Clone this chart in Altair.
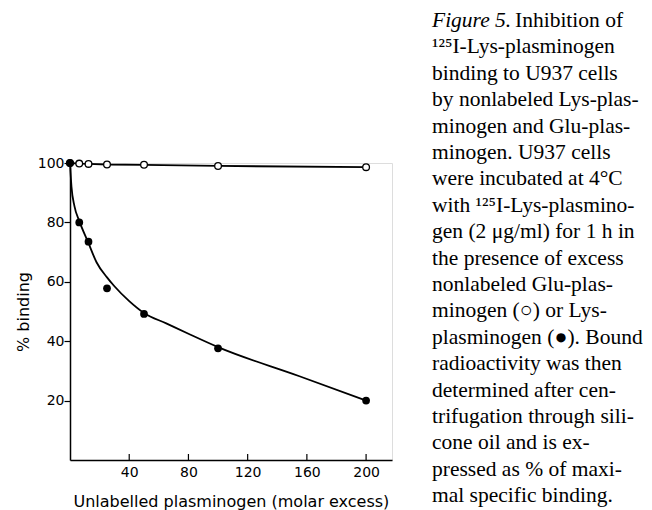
import altair as alt
import pandas as pd

# Glu-plasminogen (open circles)
glu_x = [0, 6.25, 12.5, 25, 50, 100, 200]
glu_y = [100, 99.8, 99.7, 99.5, 99.4, 99.0, 98.6]

# Lys-plasminogen (filled circles)
lys_x = [0, 6.25, 12.5, 25, 50, 100, 200]
lys_y = [100, 80, 73.5, 57.8, 49.2, 37.6, 20]

# fitted curve through Lys-plasminogen points
curve_x = [0, 1, 3, 6.25, 12.5, 18, 25, 30, 40, 50, 65, 80, 100, 155, 200]
curve_y = [100, 92, 85.5, 80.5, 73, 66.5, 61.5, 58.5, 53.5, 49.5, 46, 42.5, 38, 28.2, 20]

x_ticks = [40, 80, 120, 160, 200]
y_ticks = [20, 40, 60, 80, 100]

caption_lines = [
    "",
    "¹²⁵I-Lys-plasminogen",
    "binding to U937 cells",
    "by nonlabeled Lys-plas-",
    "minogen and Glu-plas-",
    "minogen. U937 cells",
    "were incubated at 4°C",
    "with ¹²⁵I-Lys-plasmino-",
    "gen (2 μg/ml) for 1 h in",
    "the presence of excess",
    "nonlabeled Glu-plas-",
    "minogen (○) or Lys-",
    "plasminogen (●). Bound",
    "radioactivity was then",
    "determined after cen-",
    "trifugation through sili-",
    "cone oil and is ex-",
    "pressed as % of maxi-",
    "mal specific binding.",
]

glu = pd.DataFrame({"x": glu_x, "y": glu_y})
lys = pd.DataFrame({"x": lys_x, "y": lys_y})
curve = pd.DataFrame({"x": curve_x, "y": curve_y})
ticks = pd.DataFrame({"x": x_ticks})
cap = pd.DataFrame({"line": list(range(len(caption_lines))), "text": caption_lines})

FONT = "DejaVu Sans"
SERIF = "Liberation Serif"
CAP_SIZE = 21.5
xs = alt.Scale(domain=[0, 217.5], nice=False, zero=True)
ys = alt.Scale(domain=[0, 100], nice=False)

xenc = alt.X("x:Q", scale=xs, axis=alt.Axis(
    values=x_ticks, ticks=False, grid=False, labelPadding=5,
    title="Unlabelled plasminogen (molar excess)", titlePadding=14,
    domainColor="black", domainWidth=1.5, labelColor="black", titleColor="black",
    labelFont=FONT, titleFont=FONT, labelFontSize=14, titleFontSize=16,
    titleFontWeight="normal", titleAnchor="start", titleX=3))
yenc = alt.Y("y:Q", scale=ys, axis=alt.Axis(
    values=y_ticks, grid=False, tickSize=6, tickColor="black", tickWidth=1.2,
    labelPadding=0, title="% binding", titlePadding=6,
    domainColor="black", domainWidth=1.5, labelColor="black", titleColor="black",
    labelFont=FONT, titleFont=FONT, labelFontSize=14, titleFontSize=16,
    titleFontWeight="normal"))

glu_line = alt.Chart(glu).mark_line(color="black", strokeWidth=1.8).encode(x=xenc, y=yenc)
glu_pts = alt.Chart(glu).mark_point(shape="circle", filled=False, fill="white",
                                    color="black", strokeWidth=1.3, size=45, opacity=1).encode(x="x:Q", y="y:Q")
lys_line = alt.Chart(curve).mark_line(color="black", strokeWidth=1.8, interpolate="monotone").encode(x="x:Q", y="y:Q")
lys_pts = alt.Chart(lys).mark_point(shape="circle", filled=True, color="black",
                                    size=60, opacity=1).encode(x="x:Q", y="y:Q")

xtick_marks = alt.Chart(ticks).mark_rule(color="black", strokeWidth=1.2).encode(
    x="x:Q", y=alt.value(297), y2=alt.value(291))

caption = alt.Chart(cap).transform_calculate(
    py="-142 + datum.line * 26.4"
).mark_text(align="left", baseline="middle", font=SERIF,
            fontSize=CAP_SIZE, color="black").encode(
    x=alt.value(362), y=alt.Y("py:Q", scale=None), text="text:N")

cap_it = alt.Chart(pd.DataFrame({"t": ["Figure 5."]})).mark_text(
    align="left", baseline="middle", font=SERIF, fontStyle="italic",
    fontSize=CAP_SIZE, color="black").encode(x=alt.value(362), y=alt.value(-142), text="t:N")
cap_rest = alt.Chart(pd.DataFrame({"t": ["Inhibition of"]})).mark_text(
    align="left", baseline="middle", font=SERIF,
    fontSize=CAP_SIZE, color="black").encode(x=alt.value(445), y=alt.value(-142), text="t:N")

chart = alt.layer(glu_line, lys_line, glu_pts, lys_pts, xtick_marks, caption, cap_it, cap_rest).properties(
    width=322, height=297,
    autosize=alt.AutoSizeParams(type="none"),
    padding={"left": 62, "top": 155, "right": 252, "bottom": 50},
).configure_view(stroke=None).configure(background="white")

chart.save("out.html", embed_options={"renderer": "svg", "actions": False})
